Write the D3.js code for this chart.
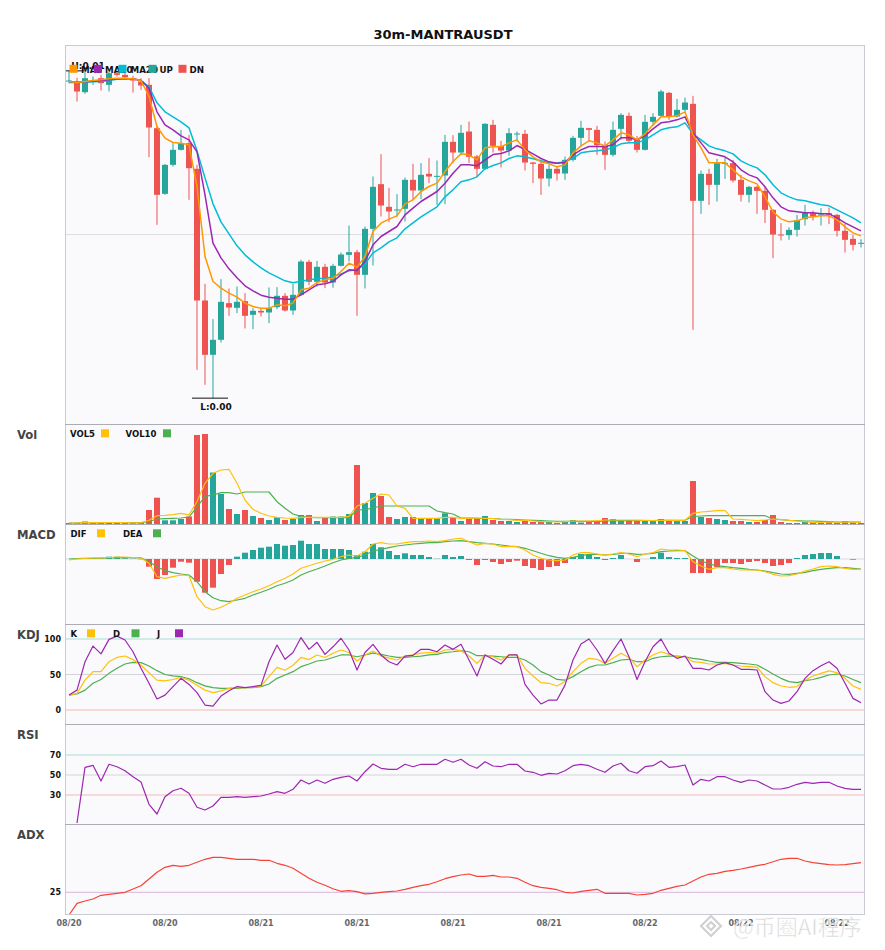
<!DOCTYPE html>
<html><head><meta charset="utf-8">
<script src="https://cdn.jsdelivr.net/npm/d3@7"></script>
<style>body{margin:0;background:#fff;}svg{display:block;font-family:"DejaVu Sans",sans-serif;}</style>
</head><body><svg id="chart" width="885" height="950"></svg>
<script>
const title = "30m-MANTRAUSDT";
const tickIdx = [0,12,24,36,48,60,72,84,96];
const tickLabels = ["08/20","08/20","08/21","08/21","08/21","08/21","08/22","08/22","08/22"];

const open = [0.005566,0.005565,0.005533,0.005567,0.005575,0.005555,0.005590,0.005585,0.005575,0.005565,
0.005555,0.005425,0.005228,0.005315,0.005360,0.005380,0.005303,0.004908,0.004745,0.004790,
0.004900,0.004886,0.004906,0.004865,0.004877,0.004872,0.004888,0.004922,0.004878,0.004925,
0.005024,0.004964,0.005009,0.004962,0.005012,0.005045,0.005053,0.004985,0.005123,0.005257,
0.005189,0.005179,0.005183,0.005270,0.005238,0.005288,0.005280,0.005283,0.005384,0.005352,
0.005415,0.005340,0.005303,0.005435,0.005372,0.005358,0.005407,0.005408,0.005322,0.005318,
0.005274,0.005303,0.005289,0.005330,0.005396,0.005425,0.005420,0.005374,0.005345,0.005423,
0.005462,0.005390,0.005360,0.005444,0.005462,0.005531,0.005460,0.005480,0.005498,0.005207,
0.005288,0.005255,0.005319,0.005320,0.005270,0.005225,0.005249,0.005237,0.005180,0.005106,
0.005104,0.005120,0.005152,0.005170,0.005164,0.005170,0.005165,0.005117,0.005093,0.005079];
const high = [0.005597,0.005576,0.005595,0.005580,0.005585,0.005594,0.005595,0.005592,0.005582,0.005575,
0.005575,0.005432,0.005318,0.005380,0.005420,0.005405,0.005315,0.004958,0.004852,0.004972,
0.004944,0.004950,0.004930,0.004885,0.004885,0.004947,0.004948,0.004930,0.004958,0.005030,
0.005030,0.005027,0.005018,0.005018,0.005052,0.005133,0.005060,0.005130,0.005280,0.005347,
0.005246,0.005227,0.005277,0.005318,0.005320,0.005335,0.005328,0.005405,0.005404,0.005435,
0.005445,0.005345,0.005440,0.005450,0.005387,0.005425,0.005415,0.005420,0.005324,0.005330,
0.005315,0.005312,0.005340,0.005402,0.005447,0.005426,0.005432,0.005385,0.005445,0.005470,
0.005472,0.005402,0.005465,0.005470,0.005540,0.005534,0.005513,0.005517,0.005522,0.005298,
0.005303,0.005333,0.005337,0.005330,0.005285,0.005252,0.005252,0.005250,0.005182,0.005140,
0.005128,0.005165,0.005195,0.005178,0.005185,0.005187,0.005168,0.005138,0.005105,0.005092];
const low = [0.005560,0.005505,0.005528,0.005555,0.005538,0.005535,0.005580,0.005570,0.005532,0.005540,
0.005338,0.005135,0.005225,0.005310,0.005358,0.005210,0.004700,0.004655,0.004615,0.004782,
0.004862,0.004870,0.004824,0.004822,0.004860,0.004840,0.004882,0.004875,0.004865,0.004922,
0.004954,0.004950,0.004945,0.004946,0.005010,0.005025,0.004862,0.004944,0.005013,0.005160,
0.005143,0.005160,0.005145,0.005210,0.005212,0.005260,0.005195,0.005197,0.005320,0.005345,
0.005321,0.005280,0.005300,0.005352,0.005307,0.005342,0.005385,0.005298,0.005260,0.005225,
0.005250,0.005268,0.005270,0.005325,0.005370,0.005385,0.005345,0.005300,0.005340,0.005390,
0.005380,0.005352,0.005358,0.005432,0.005460,0.005450,0.005457,0.005475,0.004820,0.005168,
0.005195,0.005205,0.005273,0.005262,0.005205,0.005202,0.005168,0.005140,0.005035,0.005088,
0.005090,0.005100,0.005133,0.005148,0.005133,0.005137,0.005100,0.005052,0.005058,0.005067];
const close = [0.005568,0.005535,0.005575,0.005569,0.005560,0.005590,0.005585,0.005578,0.005568,0.005553,
0.005427,0.005225,0.005315,0.005360,0.005380,0.005305,0.004908,0.004745,0.004790,0.004904,
0.004887,0.004904,0.004862,0.004877,0.004872,0.004885,0.004922,0.004878,0.004925,0.005025,
0.004964,0.005009,0.004962,0.005012,0.005046,0.005053,0.004985,0.005123,0.005249,0.005193,
0.005175,0.005181,0.005270,0.005238,0.005285,0.005280,0.005282,0.005384,0.005352,0.005411,
0.005339,0.005303,0.005438,0.005372,0.005358,0.005410,0.005409,0.005322,0.005318,0.005274,
0.005303,0.005289,0.005330,0.005396,0.005426,0.005420,0.005374,0.005345,0.005420,0.005465,
0.005387,0.005360,0.005444,0.005459,0.005535,0.005460,0.005480,0.005502,0.005207,0.005288,
0.005255,0.005320,0.005321,0.005268,0.005225,0.005249,0.005237,0.005180,0.005106,0.005104,
0.005120,0.005149,0.005173,0.005160,0.005166,0.005165,0.005117,0.005090,0.005075,0.005081];

const ma5 = [0.005565,0.005562,0.005565,0.005568,0.005570,0.005573,0.005575,0.005575,0.005573,0.005568,
0.005520,0.005430,0.005395,0.005382,0.005380,0.005375,0.005250,0.005040,0.004965,0.004945,
0.004930,0.004918,0.004900,0.004890,0.004885,0.004885,0.004895,0.004892,0.004900,0.004940,
0.004945,0.004962,0.004970,0.004975,0.004995,0.005020,0.005008,0.005040,0.005115,0.005140,
0.005152,0.005162,0.005198,0.005210,0.005235,0.005250,0.005260,0.005295,0.005325,0.005348,
0.005345,0.005330,0.005366,0.005369,0.005369,0.005381,0.005390,0.005360,0.005339,0.005324,
0.005318,0.005309,0.005315,0.005351,0.005372,0.005387,0.005381,0.005372,0.005390,0.005411,
0.005405,0.005390,0.005408,0.005435,0.005459,0.005459,0.005462,0.005474,0.005405,0.005366,
0.005321,0.005321,0.005321,0.005300,0.005279,0.005267,0.005258,0.005219,0.005174,0.005153,
0.005144,0.005147,0.005156,0.005159,0.005162,0.005162,0.005150,0.005129,0.005111,0.005102];
const ma10 = [0.005565,0.005563,0.005564,0.005566,0.005568,0.005570,0.005573,0.005573,0.005573,0.005568,
0.005545,0.005474,0.005435,0.005420,0.005402,0.005390,0.005354,0.005225,0.005080,0.005036,
0.005003,0.004976,0.004952,0.004937,0.004924,0.004918,0.004915,0.004912,0.004912,0.004925,
0.004940,0.004955,0.004958,0.004965,0.004985,0.005000,0.004998,0.005025,0.005075,0.005100,
0.005115,0.005130,0.005165,0.005185,0.005205,0.005220,0.005235,0.005260,0.005290,0.005315,
0.005315,0.005312,0.005330,0.005346,0.005349,0.005357,0.005373,0.005361,0.005348,0.005334,
0.005324,0.005320,0.005322,0.005345,0.005360,0.005370,0.005370,0.005369,0.005376,0.005396,
0.005396,0.005390,0.005402,0.005423,0.005441,0.005444,0.005450,0.005459,0.005411,0.005381,
0.005351,0.005345,0.005339,0.005324,0.005300,0.005285,0.005276,0.005249,0.005216,0.005189,
0.005177,0.005174,0.005171,0.005171,0.005168,0.005168,0.005156,0.005141,0.005129,0.005117];
const ma20 = [0.005562,0.005562,0.005563,0.005564,0.005565,0.005568,0.005572,0.005573,0.005573,0.005568,
0.005549,0.005501,0.005474,0.005459,0.005444,0.005426,0.005357,0.005276,0.005198,0.005144,
0.005108,0.005072,0.005045,0.005024,0.005006,0.004991,0.004979,0.004967,0.004961,0.004966,
0.004970,0.004973,0.004975,0.004979,0.004988,0.004997,0.005000,0.005018,0.005051,0.005066,
0.005084,0.005096,0.005123,0.005141,0.005159,0.005174,0.005189,0.005219,0.005240,0.005264,
0.005270,0.005279,0.005303,0.005313,0.005321,0.005334,0.005342,0.005339,0.005333,0.005327,
0.005321,0.005320,0.005325,0.005334,0.005351,0.005355,0.005357,0.005360,0.005367,0.005378,
0.005381,0.005381,0.005390,0.005405,0.005420,0.005426,0.005429,0.005441,0.005408,0.005390,
0.005372,0.005363,0.005357,0.005348,0.005327,0.005315,0.005306,0.005285,0.005255,0.005231,
0.005219,0.005210,0.005207,0.005201,0.005195,0.005192,0.005180,0.005168,0.005156,0.005141];

const volume = [10000,10000,25000,10000,10000,15000,15000,10000,10000,10000,
140000,263000,37000,37000,50000,75000,890000,900000,515000,300000,
150000,100000,140000,80000,60000,40000,70000,40000,50000,90000,
90000,30000,60000,75000,75000,100000,590000,210000,310000,280000,
70000,50000,70000,70000,60000,50000,55000,107000,65000,30000,
60000,60000,80000,40000,30000,30000,20000,30000,20000,20000,
20000,10000,23000,40000,15000,30000,25000,60000,50000,30000,
30000,40000,40000,30000,50000,30000,30000,30000,430000,70000,
60000,50000,40000,30000,30000,20000,20000,40000,90000,20000,
10000,10000,30000,20000,10000,23000,10000,30000,15000,10000];
const vol5 = [10000,10000,15000,13000,13000,15000,15000,13000,12000,12000,
37000,83000,87000,93000,107000,92000,223000,407000,507000,540000,
547000,407000,240000,147000,107000,80000,67000,60000,57000,67000,
67000,66000,67000,67000,66000,77000,180000,207000,257000,300000,
290000,180000,157000,57000,57000,57000,57000,67000,67000,57000,
57000,60000,57000,55000,47000,43000,37000,37000,30000,23000,
23000,20000,23000,30000,30000,30000,33000,40000,40000,40000,
40000,38000,37000,33000,37000,37000,33000,37000,107000,120000,
127000,133000,133000,50000,47000,40000,33000,40000,50000,45000,
37000,30000,23000,17000,17000,20000,18000,20000,18000,17000];
const vol10 = [10000,10000,12000,12000,12000,13000,13000,13000,13000,13000,
25000,50000,53000,57000,60000,70000,170000,277000,290000,313000,
313000,300000,320000,320000,320000,320000,223000,157000,100000,77000,
67000,63000,63000,63000,63000,63000,140000,143000,160000,180000,
180000,180000,180000,180000,180000,180000,130000,113000,100000,60000,
60000,57000,55000,55000,50000,47000,43000,40000,37000,33000,
30000,27000,27000,27000,27000,27000,27000,30000,33000,33000,
33000,33000,35000,35000,37000,37000,37000,37000,75000,80000,
83000,83000,83000,83000,83000,83000,83000,83000,50000,43000,
37000,33000,30000,30000,27000,23000,20000,20000,20000,20000];

// MACD values in units of 1e-6 USDT
const dif = [-1,0,0.5,1,1,1.5,2,2,1.5,1,
-4.3,-17.7,-19.3,-17.7,-16,-16.7,-37.7,-47.7,-51,-48.3,
-44.3,-39.3,-36,-32.7,-30,-26.7,-22.7,-19.3,-15,-9.3,
-6.7,-4.3,-2,-0.3,2.3,4,3,7.3,15,16.3,
15,15,16.3,17.3,17.3,18,17.3,18.3,20,20.7,
17.3,14,15.7,15,12.3,12.3,12.3,9,4,0.7,
-1,-1.7,-1,4,6.3,6.3,5,4,5,6.3,
5,2.3,5,6.3,10,9,9,8.3,-2.7,-7,
-10.3,-8.7,-8.7,-10,-11,-11,-11,-12.7,-15.3,-17,
-16.7,-15,-12,-10,-7.7,-7,-7.7,-9.3,-10.3,-10.3];
const dea = [0,0.5,0.7,0.7,0.8,1,1.2,1.3,1.3,1.2,
-2.7,-7.7,-11.7,-13.7,-15,-16,-22.7,-32.7,-38.7,-41.7,
-42.7,-41,-39.3,-36,-33.3,-30.3,-26.7,-24.3,-21,-16,
-12.7,-10,-7,-3.7,-1,0.7,1.7,4,8,9.7,
11.3,13,14,15,15.7,16.3,16.3,17.3,18,18.3,
17.3,16.3,15.7,15,14,13,12.3,10.7,8.3,5.7,
3.3,1.7,0.7,1.7,3.3,4.7,4.7,4,4.7,5.7,
5.7,4.7,5,5.7,7.3,8,8.3,8.3,3,-1.7,
-5,-6.7,-7.7,-8.7,-9.3,-10.3,-11,-12,-13.7,-15,
-15.3,-14.3,-13.3,-11.7,-10.3,-9.3,-8.7,-8.7,-9.3,-10];
const macdHist = [0,0,1,0.7,0.3,2.3,2.3,0.7,0.3,-0.3,
-7.7,-20,-16,-8.7,-2.7,-3.7,-22.7,-33.7,-28.7,-15,
-6,2.3,6.3,9,11.3,12.3,15,13.3,14,18.3,
15,15,10,10,10,9,4,7.3,15,11.7,
8,4,5.7,4,4,2,0.3,4,2,3,
-1,-6,-1,-3,-5,-3,-1.7,-7,-9,-11,
-8,-7,-4,2,5,5,2,-1,1,4,
0,-3,0,2,6.3,2,1,1,-14,-14,
-14,-8,-4,-4,-5,-3,-2,-4,-7,-6,
-4,1,4,5,6,6,3,0,-0.7,0];

const kVal = [21,23.5,42,54,54,68,74,76,71,63,
52.6,42,41,43,46,42,35,28,24.4,27,
30.5,32,31.5,32,34,47,60,56,63,74,
71,77.5,74,80,84.5,81,69,77.5,83,76,
73,70.4,76,77.5,80,81,80,84.5,85.4,83.6,
76,65.7,77.5,75,70.4,77.5,77.5,58.7,47.9,38.5,
37.6,33.8,40,54,65.7,72.8,71.4,65.7,72.8,80,
74,61,70.4,77.5,82,78.4,75,75,68,67,
64.8,64.8,65.7,63.4,62,61,60,47,38.5,33.8,
32,33,42,47.9,51.6,55,52.6,44.6,33.8,29];
const dVal = [21,22.5,28,37.6,43,51.6,58.7,64.8,67,66.7,
62,55.4,50,48,47,44,38.5,34,31.5,30.5,
30.5,30.5,31.5,31.5,33,36.6,44.6,49.3,54,61,
64.8,69,70.4,74,77.5,77.5,75,77.5,80,78.4,
76,74,74,75,76,77.5,78.4,81,82,83.6,
82,76.5,76.5,76,75,74,74,70.4,63.4,54,
49.3,43,42,47,54,60,63.4,63.4,66.7,70.4,
71.4,68,68,72.8,75,76,76,75,72.8,71.4,
69,67,67,66.7,65.7,64.8,63.4,57.3,50.7,44.6,
40,38.5,41.3,43,46,49.3,50.7,47.9,43,38.5];
const jVal = [21,28,68,90,79,99.5,104,98.6,82,58.7,
37.6,15.5,21,33,44.6,36,24.4,7,5.6,19.7,
27,33,31.5,33,34.7,68,91.5,71.4,81,102,
85.4,95.3,78.4,89,101,84.5,56.3,81,92.5,77.5,
68,63.4,76,77,85.4,85.4,82,91.5,85.4,92.5,
70.4,47.9,77.5,71.4,64.8,77.5,77.5,36,21,8.5,
14,14,35,70.4,93,100,84.5,65.7,83.6,100,
75,43,68,89,100,79.8,72.8,76,58.7,58.7,
56.3,63.4,66.7,63.4,57.3,57.3,56.3,25.8,14,9.4,
12.7,25.8,44.6,55.4,62.4,68,58.7,37.6,16.4,10.3];

const rsi = [null,2,57.7,59.7,44,60.7,58.3,54.3,48.3,43,
20.7,11,28.3,34.3,36.7,31.7,17.7,15,19,27.7,
27.7,28.3,27.7,28.3,29,31,33.3,31.7,35.7,45,
41,45,41.7,45.7,47.7,49,44,53.3,61,56.7,
55.7,55.7,60.7,58.3,60.7,60.7,60.7,65.7,62.7,65.7,
60,56.7,63.3,59,58.3,60.7,60.7,54,52.7,49.7,
51.7,51,54.3,59.3,60.7,59.3,55.7,52.7,59,61.7,
54.3,51.7,58.3,59.3,64,57.7,58.3,60,40,45.7,
44,48.3,48.3,45,42.7,45,44,40,36,36,
37.7,40.7,42.7,41.7,42.7,42.7,39,36.7,35.7,35.7];

const adx = [13.65,19.5,20.65,21.65,23.5,24,24.5,25,26.65,28.3,
31.65,35,37.5,38.5,38,38.5,40,41.5,42.5,42.5,
42,41.5,41.5,41.5,41,41,39.5,38.5,37,34.5,
32,30,28.5,26.8,25.5,25.8,25.3,24.2,24.5,25,
25.3,25.65,26.5,27.5,28.3,29,30.3,31.8,32.8,33.65,
34.15,33,33,33.5,32.65,32.65,32,30,28.3,27.5,
27,26.3,25,24.65,25.5,26,26.5,24.5,24.5,24.5,
24.5,23.65,24,24.5,26,27,28,28.65,30.65,32.65,
34,34.5,35.5,36,36.65,37.5,38.3,39,40.3,41.5,
42,42,40.65,39.8,39.3,38.8,38.65,38.8,39.3,39.8];

// ---------- layout ----------
const svg = d3.select('#chart');
const L = 65, R = 865;
const P = {main:[45,424], vol:[424,524], macd:[524,624], kdj:[624,724], rsi:[724,824], adx:[824,915]};
const UP = '#26a69a', DN = '#ef5350';
const C_ORANGE = '#ff9800', C_PURPLE = '#9c27b0', C_CYAN = '#00bcd4', C_YEL = '#ffc107', C_GRN = '#4caf50', C_ADX = '#f44336';
const N = close.length;
const x = d3.scaleBand().domain(d3.range(N)).range([L, R]).paddingInner(0.25).paddingOuter(0.125);
const cx = i => x(i) + x.bandwidth() / 2;
const bw = x.bandwidth();
const isUp = i => close[i] >= open[i];

svg.append('text').attr('x', 443).attr('y', 39).attr('text-anchor', 'middle')
  .attr('font-size', 13).attr('font-weight', 'bold').attr('fill', '#111').text(title);

const defs = svg.append('defs');
const layer = {};
Object.entries(P).forEach(([k, [t, b]]) => {
  svg.append('rect').attr('x', L).attr('y', t).attr('width', R - L).attr('height', b - t).attr('fill', '#fafafd');
  defs.append('clipPath').attr('id', 'clip-' + k).append('rect').attr('x', L).attr('y', t).attr('width', R - L).attr('height', b - t);
});
Object.keys(P).forEach(k => { layer[k] = svg.append('g').attr('clip-path', `url(#clip-${k})`); });

function hline(g, y, color) {
  g.append('line').attr('x1', L).attr('x2', R).attr('y1', y).attr('y2', y).attr('stroke', color).attr('stroke-width', 1);
}
function drawLine(g, data, yScale, color, width) {
  g.append('path').datum(data)
    .attr('fill', 'none').attr('stroke', color).attr('stroke-width', width).attr('stroke-linejoin', 'round')
    .attr('d', d3.line().defined(d => d !== null).x((d, i) => cx(i)).y(d => yScale(d)));
}

// ---------- main price ----------
const pMin = d3.min(low), pMax = d3.max(high), pad = (pMax - pMin) * 0.079;
const yP = d3.scaleLinear().domain([pMin - pad, pMax + pad]).range([P.main[1], P.main[0]]);
hline(layer.main, yP((pMin + pMax) / 2), '#dedee2');
const cg = layer.main.append('g');
const cand = cg.selectAll('g').data(d3.range(N)).join('g');
cand.append('line').attr('x1', cx).attr('x2', cx).attr('y1', i => yP(high[i])).attr('y2', i => yP(low[i]))
  .attr('stroke', i => isUp(i) ? UP : DN).attr('stroke-width', 1);
cand.append('rect').attr('x', i => x(i)).attr('width', bw)
  .attr('y', i => yP(Math.max(open[i], close[i])))
  .attr('height', i => Math.max(1, Math.abs(yP(open[i]) - yP(close[i]))))
  .attr('fill', i => isUp(i) ? UP : DN);
drawLine(layer.main, ma20, yP, C_CYAN, 1.5);
drawLine(layer.main, ma10, yP, C_PURPLE, 1.5);
drawLine(layer.main, ma5, yP, C_ORANGE, 1.5);

// high / low markers
const hi = high.indexOf(pMax), lo = low.indexOf(pMin);
layer.main.append('line').attr('x1', cx(hi) - 21).attr('x2', cx(hi) + 15).attr('y1', yP(pMax)).attr('y2', yP(pMax)).attr('stroke', '#111');
svg.append('text').attr('x', Math.max(cx(hi) + 3, L + 23)).attr('y', yP(pMax) - 2).attr('text-anchor', 'middle')
  .attr('font-size', 9).attr('font-weight', 'bold').attr('fill', '#111').text('H:' + pMax.toFixed(2));
layer.main.append('line').attr('x1', cx(lo) - 21).attr('x2', cx(lo) + 15).attr('y1', yP(pMin)).attr('y2', yP(pMin)).attr('stroke', '#111');
svg.append('text').attr('x', cx(lo) + 3).attr('y', yP(pMin) + 12).attr('text-anchor', 'middle')
  .attr('font-size', 9).attr('font-weight', 'bold').attr('fill', '#111').text('L:' + pMin.toFixed(2));

// ---------- volume ----------
const yV = d3.scaleLinear().domain([0, d3.max(volume) / 0.9]).range([P.vol[1], P.vol[0]]);
layer.vol.selectAll('rect').data(volume).join('rect')
  .attr('x', (d, i) => x(i)).attr('width', bw).attr('y', d => yV(d)).attr('height', d => yV(0) - yV(d))
  .attr('fill', (d, i) => isUp(i) ? UP : DN);
drawLine(layer.vol, vol10, yV, C_GRN, 1.2);
drawLine(layer.vol, vol5, yV, C_YEL, 1.2);

// ---------- MACD ----------
const yM = d3.scaleLinear().domain([-65, 35]).range([P.macd[1], P.macd[0]]);
hline(layer.macd, yM(0), '#dcdce0');
layer.macd.selectAll('rect').data(macdHist).join('rect')
  .attr('x', (d, i) => x(i)).attr('width', bw)
  .attr('y', d => Math.min(yM(0), yM(d))).attr('height', d => Math.abs(yM(d) - yM(0)))
  .attr('fill', d => d >= 0 ? UP : DN);
drawLine(layer.macd, dea, yM, C_GRN, 1.2);
drawLine(layer.macd, dif, yM, C_YEL, 1.2);

// ---------- KDJ ----------
const yK = d3.scaleLinear().domain([-19.7, 121.1]).range([P.kdj[1], P.kdj[0]]);
hline(layer.kdj, yK(100), '#a9dcd6');
hline(layer.kdj, yK(50), '#d4d4d8');
hline(layer.kdj, yK(0), '#f6b8b8');
drawLine(layer.kdj, dVal, yK, C_GRN, 1.2);
drawLine(layer.kdj, kVal, yK, C_YEL, 1.2);
drawLine(layer.kdj, jVal, yK, C_PURPLE, 1.2);

// ---------- RSI ----------
const yR = d3.scaleLinear().domain([0, 100]).range([825, 725]);
hline(layer.rsi, yR(70), '#a9dcd6');
hline(layer.rsi, yR(50), '#d4d4d8');
hline(layer.rsi, yR(30), '#f6b8b8');
drawLine(layer.rsi, rsi, yR, C_PURPLE, 1.2);

// ---------- ADX ----------
const yA = d3.scaleLinear().domain([13.65, 59.15]).range([P.adx[1], P.adx[0]]);
hline(layer.adx, yA(25), '#dcb4dc');
drawLine(layer.adx, adx, yA, C_ADX, 1.2);

// ---------- frames ----------
svg.append('rect').attr('x', L + 0.5).attr('y', P.main[0] + 0.5).attr('width', R - L - 1).attr('height', P.adx[1] - P.main[0] - 1)
  .attr('fill', 'none').attr('stroke', '#cacad2');
[P.vol[0], P.macd[0], P.kdj[0], P.rsi[0], P.adx[0]].forEach(y => {
  svg.append('line').attr('x1', L).attr('x2', R).attr('y1', y + 0.5).attr('y2', y + 0.5).attr('stroke', '#acacb4');
});

// ---------- axes ----------
const styleAxis = (g, color) => {
  g.select('.domain').remove();
  g.selectAll('text').attr('font-size', 8).attr('font-weight', 'bold').attr('fill', color).attr('font-family', '"DejaVu Sans",sans-serif');
};
svg.append('g').attr('transform', `translate(0,${P.adx[1]})`)
  .call(d3.axisBottom(x).tickValues(tickIdx).tickFormat(d => tickLabels[tickIdx.indexOf(d)]).tickSize(0).tickPadding(5))
  .call(g => styleAxis(g, '#666'));
svg.append('g').attr('transform', `translate(${L},0)`)
  .call(d3.axisLeft(yK).tickValues([0, 50, 100]).tickSize(0).tickPadding(4)).call(g => styleAxis(g, '#111'));
svg.append('g').attr('transform', `translate(${L},0)`)
  .call(d3.axisLeft(yR).tickValues([30, 50, 70]).tickSize(0).tickPadding(4)).call(g => styleAxis(g, '#111'));
svg.append('g').attr('transform', `translate(${L},0)`)
  .call(d3.axisLeft(yA).tickValues([25]).tickSize(0).tickPadding(4)).call(g => styleAxis(g, '#111'));

// ---------- panel labels ----------
const panelLabels = [['Vol', 439], ['MACD', 539], ['KDJ', 639], ['RSI', 739], ['ADX', 839]];
panelLabels.forEach(([t, y]) => svg.append('text').attr('x', 17).attr('y', y).attr('font-size', 11.6)
  .attr('font-weight', 'bold').attr('fill', '#444').text(t));

// ---------- legends ----------
function legend(items, y, fs) {
  const g = svg.append('g');
  items.forEach(it => g.append('text').attr('x', it.tx).attr('y', y).attr('font-size', fs).attr('font-weight', 'bold').attr('fill', '#111').text(it.t));
  items.forEach(it => g.append('rect').attr('x', it.sx).attr('y', y - 7.7).attr('width', 8).attr('height', 8).attr('fill', it.c));
}
legend([
  {t: 'MA5', c: C_ORANGE, sx: 69.5, tx: 81},
  {t: 'MA10', c: C_PURPLE, sx: 94, tx: 105},
  {t: 'MA20', c: C_CYAN, sx: 118.5, tx: 130.5},
  {t: 'UP', c: UP, sx: 148.5, tx: 159.5},
  {t: 'DN', c: DN, sx: 178.5, tx: 189.5}
], 72.5, 8.7);
legend([{t: 'VOL5', c: C_YEL, sx: 101, tx: 70}, {t: 'VOL10', c: C_GRN, sx: 163, tx: 125.5}], 437, 8.5);
legend([{t: 'DIF', c: C_YEL, sx: 97, tx: 70.5}, {t: 'DEA', c: C_GRN, sx: 153, tx: 123}], 537, 8.5);
legend([{t: 'K', c: C_YEL, sx: 87, tx: 70.5}, {t: 'D', c: C_GRN, sx: 131.5, tx: 113}, {t: 'J', c: C_PURPLE, sx: 175, tx: 157}], 637, 8.5);

// ---------- watermark ----------
const wm = svg.append('g').attr('opacity', 0.85);
[[711, 926, 10], [711, 926, 4]].forEach(([mx, my, r]) => {
  wm.append('path').attr('d', `M${mx},${my - r}L${mx + r},${my}L${mx},${my + r}L${mx - r},${my}Z`)
    .attr('fill', 'none').attr('stroke', '#c9c9c9').attr('stroke-width', 2.2);
});
wm.append('text').attr('x', 733).attr('y', 935).attr('font-size', 22)
  .attr('font-family', '"Noto Sans CJK SC",sans-serif').attr('fill', '#cfcfcf')
  .attr('stroke', '#ffffff').attr('stroke-width', 0.6).text('@币圈AI程序');
</script></body></html>
